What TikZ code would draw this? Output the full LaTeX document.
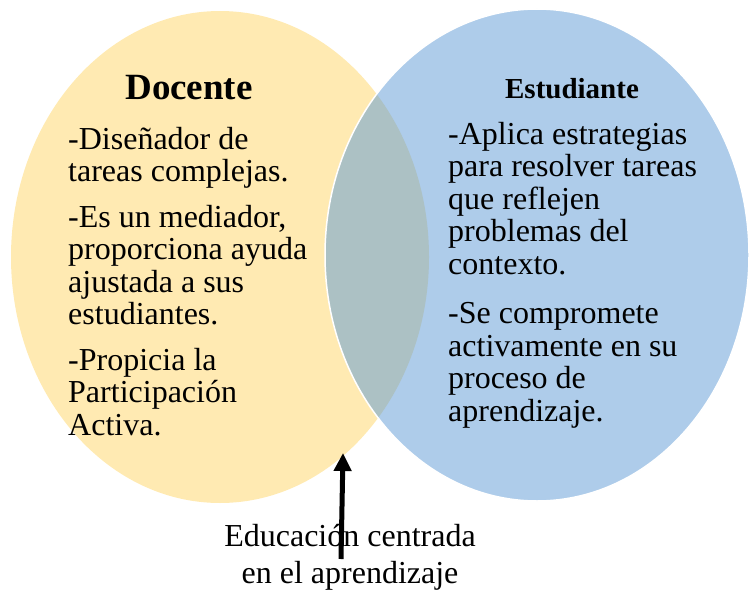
\documentclass[tikz,border=0pt]{standalone}
\usepackage{fontspec}
\setmainfont{Liberation Serif}
\usetikzlibrary{arrows.meta, positioning}

\definecolor{docfill}{RGB}{255,234,178}
\definecolor{estfill}{RGB}{174,204,234}
\definecolor{mixfill}{RGB}{172,193,196}

\begin{document}
\begin{tikzpicture}[
    x=1pt, y=-1pt,
    heading/.style={inner sep=0pt, anchor=base},
    body/.style={align=left, inner sep=0pt, anchor=base west, font=\fontsize{32}{32.5}\selectfont},
    arrow/.style={-{Triangle[length=18pt, width=17pt]}, line width=5pt}
]
\useasboundingbox (0,0) rectangle (749,591);

% Docente and Estudiante circles
\fill[docfill] (220,257) ellipse [x radius=209pt, y radius=246pt];
\fill[estfill] (537,255) ellipse [x radius=212pt, y radius=246pt];
\begin{scope}
    \clip (220,257) ellipse [x radius=209pt, y radius=246pt];
    \fill[mixfill] (537,255) ellipse [x radius=212pt, y radius=246pt];
\end{scope}
\draw[white, line width=1.5pt] (537,255) ellipse [x radius=212pt, y radius=246pt];

% Headings
\node[heading, font=\bfseries\fontsize{37}{40}\selectfont] (docente) at (189,100) {Docente};
\node[heading, font=\bfseries\fontsize{29}{32}\selectfont] (estudiante) at (572,99) {Estudiante};

% Roles (base = last line)
\node[body] (doctxt) at (68,435) {-Diseñador de\\tareas complejas.\\[13pt]-Es un mediador,\\proporciona ayuda\\ajustada a sus\\estudiantes.\\[13pt]-Propicia la\\Participación\\Activa.};
\node[body] (esttxt) at (448,421) {-Aplica estrategias\\para resolver tareas\\que reflejen\\problemas del\\contexto.\\[17pt]-Se compromete\\activamente en su\\proceso de\\aprendizaje.};

% Overlap label
\node[align=center, anchor=base, inner sep=0pt, font=\fontsize{32}{37}\selectfont] (centro) at (350,583) {Educación centrada\\en el aprendizaje};

\coordinate (tail) at (341,559);
\coordinate (tip) at (343,453);
\draw[arrow] (tail) -- (tip);

\end{tikzpicture}
\end{document}
